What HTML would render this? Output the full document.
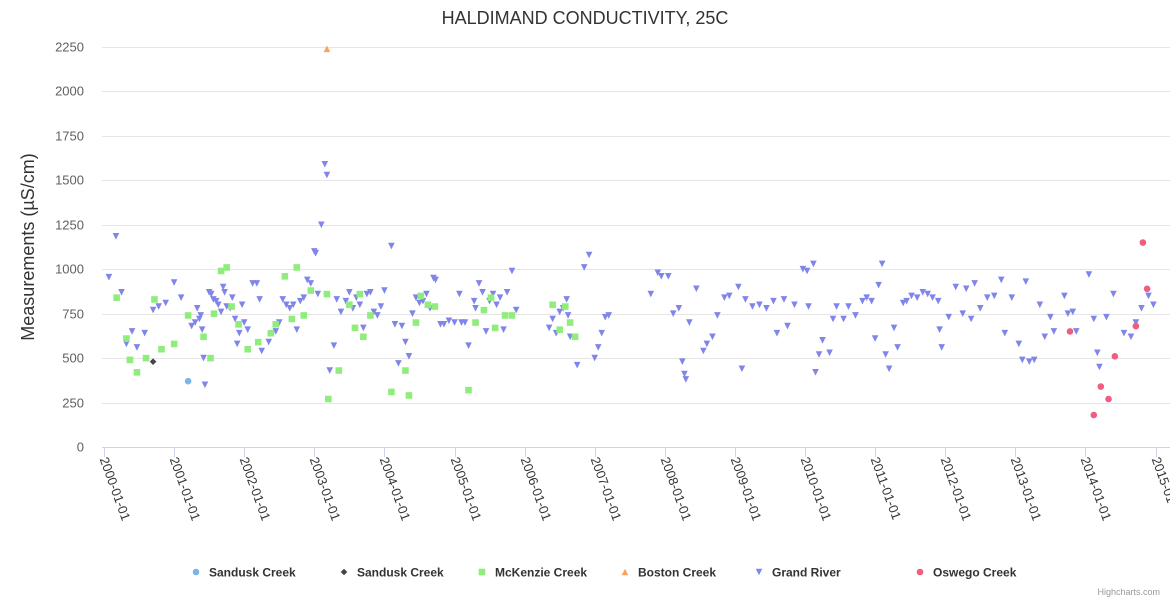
<!DOCTYPE html>
<html><head><meta charset="utf-8"><style>
body{margin:0;background:#fff;font-family:"Liberation Sans",sans-serif}
svg{display:block}
</style></head><body>
<svg id="chart" width="1170" height="600">
<text x="585" y="24" text-anchor="middle" font-size="18" fill="#333">HALDIMAND CONDUCTIVITY, 25C</text>
<text transform="translate(34,247) rotate(-90)" text-anchor="middle" font-size="18" fill="#333">Measurements (µS/cm)</text>
<text x="1160" y="595" text-anchor="end" font-size="9" fill="#999">Highcharts.com</text>
<g id="grid"></g><g id="xaxis"></g><g id="marks"></g><g id="legend"></g>
</svg>
<script>
const yTicks=[0,250,500,750,1000,1250,1500,1750,2000,2250];
const xTickYears=[2000,2001,2002,2003,2004,2005,2006,2007,2008,2009,2010,2011,2012,2013,2014,2015];
const sanduskA=[[2001.2,370]];
const sanduskB=[[2000.7,480]];
const boston=[[2003.18,2240]];
const mckenzie=[[2000.18,840],[2000.32,610],[2000.37,490],[2000.47,420],[2000.6,500],[2000.72,830],[2000.82,550],[2001.0,580],[2001.2,740],[2001.42,620],[2001.52,500],[2001.57,750],[2001.67,990],[2001.75,1010],[2001.82,790],[2001.92,690],[2002.05,550],[2002.2,590],[2002.38,640],[2002.45,690],[2002.58,960],[2002.68,720],[2002.75,1010],[2002.85,740],[2002.95,880],[2003.18,860],[2003.2,270],[2003.35,430],[2003.5,800],[2003.58,670],[2003.65,860],[2003.7,620],[2003.8,740],[2004.1,310],[2004.3,430],[2004.35,290],[2004.45,700],[2004.52,850],[2004.62,800],[2004.72,790],[2005.2,320],[2005.3,700],[2005.42,770],[2005.52,840],[2005.58,670],[2005.72,740],[2005.82,740],[2006.4,800],[2006.5,660],[2006.58,790],[2006.65,700],[2006.72,620]];
const oswego=[[2013.78,650],[2014.12,180],[2014.22,340],[2014.33,270],[2014.42,510],[2014.72,680],[2014.82,1150],[2014.88,890]];
const grand=[[2000.07,955],[2000.17,1185],[2000.25,870],[2000.32,580],[2000.40,650],[2000.47,560],[2000.58,640],[2000.70,770],[2000.78,790],[2000.88,810],[2001.0,925],[2001.10,840],[2001.25,680],[2001.30,700],[2001.33,780],[2001.36,720],[2001.38,740],[2001.40,660],[2001.42,500],[2001.44,350],[2001.50,870],[2001.53,860],[2001.56,830],[2001.6,820],[2001.63,800],[2001.67,760],[2001.70,900],[2001.72,870],[2001.75,790],[2001.8,780],[2001.83,840],[2001.87,720],[2001.9,580],[2001.93,640],[2001.97,800],[2002.0,700],[2002.05,660],[2002.12,920],[2002.18,920],[2002.22,830],[2002.25,540],[2002.35,590],[2002.45,650],[2002.5,700],[2002.55,830],[2002.6,800],[2002.65,780],[2002.7,800],[2002.75,660],[2002.8,820],[2002.85,840],[2002.9,940],[2002.95,920],[2003.0,1100],[2003.02,1090],[2003.05,860],[2003.1,1250],[2003.15,1590],[2003.18,1530],[2003.22,430],[2003.28,570],[2003.32,830],[2003.38,760],[2003.45,820],[2003.5,870],[2003.55,780],[2003.6,840],[2003.65,800],[2003.7,670],[2003.75,860],[2003.8,870],[2003.85,760],[2003.9,740],[2003.95,790],[2004.0,880],[2004.1,1130],[2004.15,690],[2004.2,470],[2004.25,680],[2004.3,590],[2004.35,510],[2004.4,750],[2004.45,840],[2004.5,810],[2004.55,820],[2004.6,860],[2004.65,780],[2004.7,950],[2004.73,940],[2004.8,690],[2004.85,690],[2004.92,710],[2005.0,700],[2005.07,860],[2005.1,700],[2005.15,700],[2005.2,570],[2005.28,820],[2005.3,780],[2005.35,920],[2005.4,870],[2005.45,650],[2005.5,820],[2005.55,860],[2005.6,800],[2005.65,840],[2005.7,660],[2005.75,870],[2005.82,990],[2005.88,770],[2006.35,670],[2006.4,720],[2006.45,640],[2006.5,760],[2006.55,780],[2006.6,830],[2006.62,740],[2006.65,620],[2006.7,620],[2006.75,460],[2006.85,1010],[2006.92,1080],[2007.0,500],[2007.05,560],[2007.1,640],[2007.15,730],[2007.2,740],[2007.8,860],[2007.9,980],[2007.95,960],[2008.05,960],[2008.12,750],[2008.2,780],[2008.25,480],[2008.28,410],[2008.3,380],[2008.35,700],[2008.45,890],[2008.55,540],[2008.6,580],[2008.68,620],[2008.75,740],[2008.85,840],[2008.92,850],[2009.05,900],[2009.1,440],[2009.15,830],[2009.25,790],[2009.35,800],[2009.45,780],[2009.55,820],[2009.6,640],[2009.7,830],[2009.75,680],[2009.85,800],[2009.97,1000],[2010.03,990],[2010.05,790],[2010.12,1030],[2010.15,420],[2010.2,520],[2010.25,600],[2010.35,530],[2010.4,720],[2010.45,790],[2010.55,720],[2010.62,790],[2010.72,740],[2010.82,820],[2010.88,840],[2010.95,820],[2011.0,610],[2011.05,910],[2011.1,1030],[2011.15,520],[2011.2,440],[2011.27,670],[2011.32,560],[2011.4,810],[2011.45,820],[2011.52,850],[2011.6,840],[2011.68,870],[2011.75,860],[2011.82,840],[2011.9,820],[2011.92,660],[2011.95,560],[2012.05,730],[2012.15,900],[2012.25,750],[2012.3,890],[2012.37,720],[2012.42,920],[2012.5,780],[2012.6,840],[2012.7,850],[2012.8,940],[2012.85,640],[2012.95,840],[2013.05,580],[2013.1,490],[2013.15,930],[2013.2,480],[2013.27,490],[2013.35,800],[2013.42,620],[2013.5,730],[2013.55,650],[2013.7,850],[2013.75,750],[2013.82,760],[2013.87,650],[2014.05,970],[2014.12,720],[2014.17,530],[2014.2,450],[2014.3,730],[2014.4,860],[2014.55,640],[2014.65,620],[2014.72,700],[2014.8,780],[2014.9,850],[2014.97,800]];
const legendNames=["Sandusk Creek","Sandusk Creek","McKenzie Creek","Boston Creek","Grand River","Oswego Creek"];

const NS="http://www.w3.org/2000/svg";
const X0=104,PXY=70.1,Y0=447,YTOP=47,YMAX=2250;
function xScale(t){return X0+(t-2000)*PXY;}
function yScale(v){return Y0-(v/YMAX)*(Y0-YTOP);}
function mk(tag,attrs,parent){const e=document.createElementNS(NS,tag);for(const k in attrs)e.setAttribute(k,attrs[k]);parent.appendChild(e);return e;}
const grid=document.getElementById('grid'),xa=document.getElementById('xaxis'),marks=document.getElementById('marks'),leg=document.getElementById('legend');
yTicks.forEach(v=>{
  const y=Math.round(yScale(v))+0.5;
  if(v>0){const l=mk('line',{x1:102,x2:1170,y1:y,y2:y,stroke:'#e6e6e6'},grid);
  
  }
  const t=mk('text',{x:84,y:y+4,'text-anchor':'end','font-size':13,fill:'#606060'},grid);
  t.textContent=v;
  
  
});
const ax=mk('line',{x1:102,x2:1170,y1:447.5,y2:447.5,stroke:'#ccd6eb'},xa);


xTickYears.forEach(yr=>{
  const x=Math.round(xScale(yr))+0.5;
  const tk=mk('line',{x1:x,x2:x,y1:447,y2:457,stroke:'#ccd6eb'},xa);
  
  
  const t=mk('text',{transform:`translate(${x-5},${459}) rotate(70)`,'font-size':13,fill:'#333'},xa);
  t.textContent=yr+'-01-01';
  
  
});
const S=3.3;
function shape(kind,cx,cy,color,g){
  let e;
  if(kind==='circle')e=mk('circle',{cx,cy,r:S,fill:color},g);
  else if(kind==='diamond')e=mk('path',{d:`M${cx},${cy-S}L${cx+S},${cy}L${cx},${cy+S}L${cx-S},${cy}Z`,fill:color},g);
  else if(kind==='square')e=mk('rect',{x:cx-S,y:cy-S,width:2*S,height:2*S,fill:color},g);
  else if(kind==='tri')e=mk('path',{d:`M${cx},${cy-S}L${cx+S},${cy+S}L${cx-S},${cy+S}Z`,fill:color},g);
  else e=mk('path',{d:`M${cx-S},${cy-S}L${cx+S},${cy-S}L${cx},${cy+S}Z`,fill:color},g);
  return e;
}
const series=[[sanduskA,'circle','#7cb5ec'],[sanduskB,'diamond','#434348'],[mckenzie,'square','#90ed7d'],[boston,'tri','#f7a35c'],[grand,'tridown','#8085e9'],[oswego,'circle','#f15c80']];
const drawOrder=[4,2,0,1,3,5];
drawOrder.forEach(i=>{
  const [data,kind,color]=series[i];
  data.forEach(p=>{
    const e=shape(kind,xScale(p[0]),yScale(p[1]),color,marks);
    
    
  });
});
const legX=[196,344,482,625,759,920];
series.forEach((s,i)=>{
  const g=mk('g',{},leg);
  
  
  shape(s[1],legX[i],572,s[2],g);
  const t=mk('text',{x:legX[i]+13,y:576.5,'font-size':12,'font-weight':'bold',fill:'#333'},g);
  t.textContent=legendNames[i];
});
</script>
</body></html>
